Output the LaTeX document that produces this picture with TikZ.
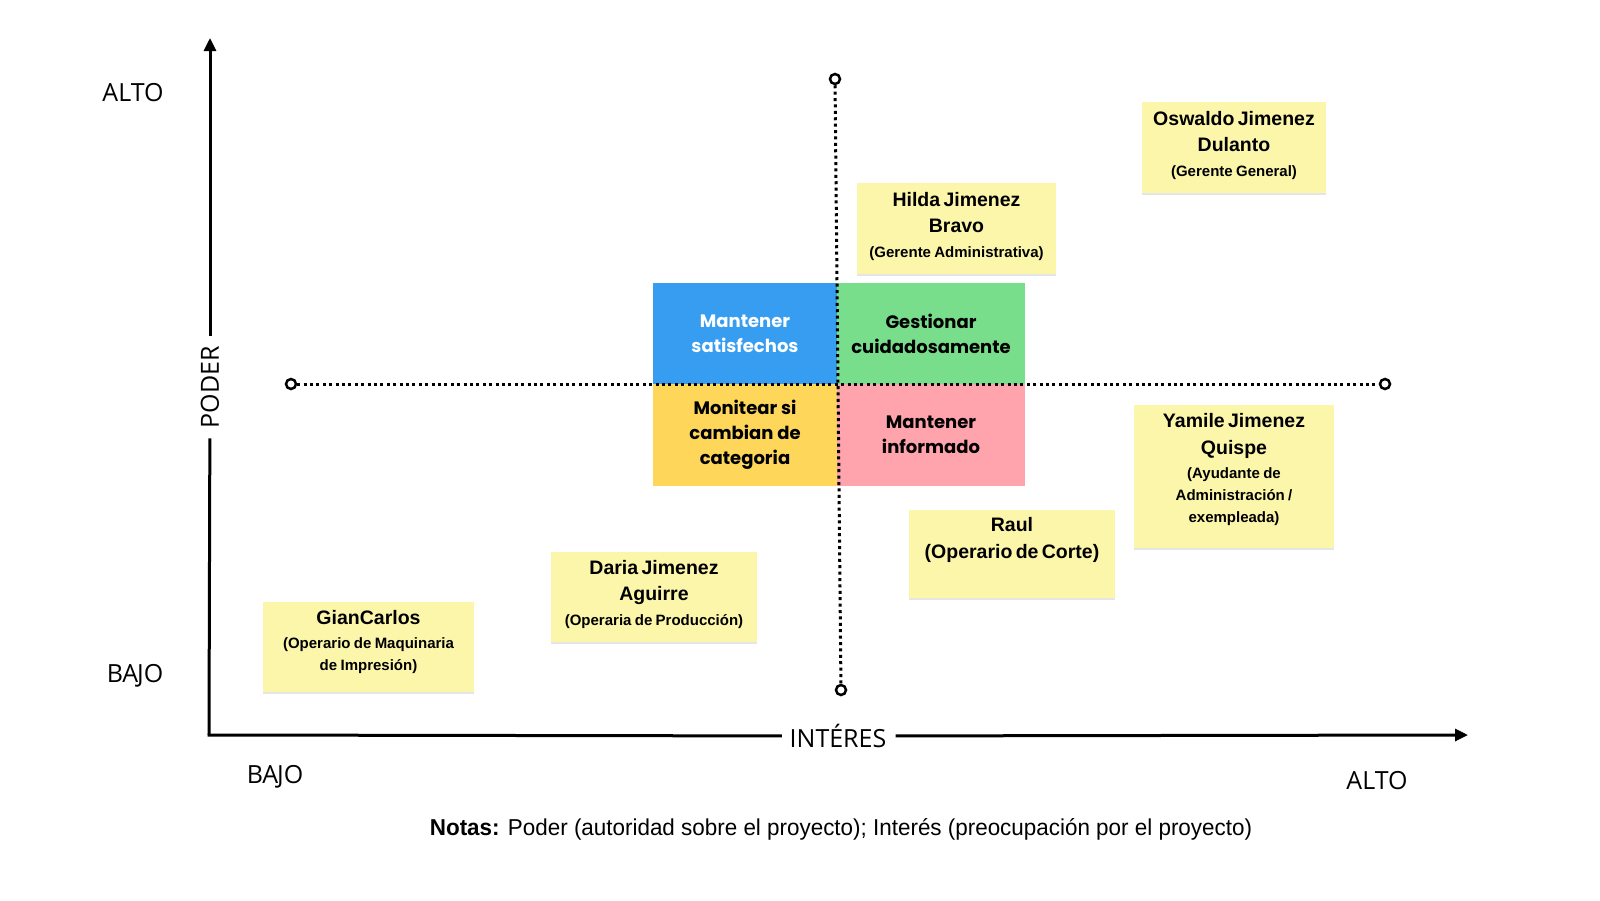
\documentclass[tikz,border=0pt]{standalone}
\usepackage{fontspec}
\setmainfont{Liberation Sans}
\newfontfamily\axisfont{Open Sans}
\newfontfamily\quadfont{Poppins}
\usetikzlibrary{arrows.meta,shadows}

\definecolor{notefill}{HTML}{FCF6AA}
\definecolor{qblue}{HTML}{379DF0}
\definecolor{qgreen}{HTML}{79DE8C}
\definecolor{qyellow}{HTML}{FDD65A}
\definecolor{qpink}{HTML}{FFA3AC}

\newcommand{\pname}[1]{{\fontsize{19.5}{26.5}\selectfont\bfseries #1\par}}
\newcommand{\prole}[1]{{\fontsize{15}{22}\selectfont\bfseries\vspace{2.5pt}#1\par}}

\begin{document}
\begin{tikzpicture}[x=1pt,y=-1pt]
\tikzstyle{axis}       = [line width=3pt]
\tikzstyle{axislabel}  = [font=\axisfont\fontsize{25}{30}\selectfont]
\tikzstyle{guide}      = [line width=3pt, dash pattern=on 3pt off 3.4pt]
\tikzstyle{endpt}      = [circle, draw, line width=2.5pt, fill=white, minimum size=10pt, inner sep=0pt]
\tikzstyle{quad}       = [minimum height=101pt, inner sep=0pt, align=center, font=\quadfont\bfseries\fontsize{18}{25}\selectfont]
\tikzstyle{sticky}     = [fill=notefill, inner sep=0pt, drop shadow={shadow xshift=0pt, shadow yshift=-2pt, opacity=.25, fill=black!40}]
\tikzstyle{stickytext} = [align=center, text width=200pt, inner sep=0pt]

\useasboundingbox (0,0) rectangle (1600,900);

% axes
\coordinate (origin) at (209,735);
\coordinate (ytop)   at (210,38);
\coordinate (xend)   at (1468,735);
\node (poder)   [axislabel, rotate=90, inner sep=10pt] at (210,387) {PODER};
\node (interes) [axislabel, inner sep=9pt] at (838,736) {INTÉRES};
\draw [axis] (origin) -- (poder);
\draw [axis, -{Triangle[length=13pt, width=12pt]}] (poder) -- (ytop);
\draw [axis, line cap=rect] (origin) -- (interes);
\draw [axis, -{Triangle[length=13pt, width=12pt]}] (interes) -- (xend);

\node (yalto) [axislabel] at (133,93)  {ALTO};
\node (ybajo) [axislabel] at (135,676) {BA\kern-1.2pt JO};
\node (xbajo) [axislabel] at (275,777) {BA\kern-1.2pt JO};
\node (xalto) [axislabel] at (1377,781) {ALTO};

% quadrants
\node (satisf)  [quad, fill=qblue, text=white, minimum width=184pt] at (745,333.5) {Mantener\\satisfechos};
\node (gestion) [quad, fill=qgreen, minimum width=188pt] at (931,333.5) {Gestionar\\cuidadosamente};
\node (monitor) [quad, fill=qyellow, minimum width=184pt, minimum height=102pt] at (745,435) {Monitear si\\cambian de\\categoria};
\node (inform)  [quad, fill=qpink, minimum width=188pt, minimum height=102pt] at (931,435) {Mantener\\informado};

% guide lines
\node (vtop)   [endpt] at (835,79) {};
\node (vbot)   [endpt] at (841,690) {};
\node (hleft)  [endpt] at (291,384) {};
\node (hright) [endpt] at (1385,384) {};
\draw [guide] (vtop) -- (vbot);
\draw [guide] (hleft) -- (hright);

% stakeholders
\node (oswaldo) [sticky, minimum width=184pt, minimum height=91pt] at (1234,147.5) {};
\node [stickytext] at ([yshift=2.5pt]oswaldo.center) {\pname{Oswaldo Jimenez\\Dulanto}\prole{(Gerente General)}};

\node (hilda) [sticky, minimum width=199pt, minimum height=91pt] at (956.5,228.5) {};
\node [stickytext] at ([yshift=2.5pt]hilda.center) {\pname{Hilda Jimenez\\Bravo}\prole{(Gerente Administrativa)}};

\node (yamile) [sticky, minimum width=200pt, minimum height=143pt] at (1234,476.5) {};
\node [stickytext] at ([yshift=7pt]yamile.center) {\pname{Yamile Jimenez\\Quispe}\prole{(Ayudante de\\Administración /\\exempleada)}};

\node (raul) [sticky, minimum width=206pt, minimum height=88pt] at (1012,554) {};
\node [stickytext] at ([yshift=14pt]raul.center) {\pname{Raul\\(Operario de Corte)}};

\node (daria) [sticky, minimum width=206pt, minimum height=90pt] at (654,597) {};
\node [stickytext] at ([yshift=3pt]daria.center) {\pname{Daria Jimenez\\Aguirre}\prole{(Operaria de Producción)}};

\node (gian) [sticky, minimum width=211pt, minimum height=90pt] at (368.5,647) {};
\node [stickytext, text width=211pt] at ([yshift=5pt]gian.center) {\pname{GianCarlos}\prole{(Operario de Maquinaria\\de Impresión)}};

% notes
\node (notas) [font=\fontsize{23}{27}\selectfont, xscale=0.975] at (841,829) {\textbf{Notas:} Poder (autoridad sobre el proyecto); Interés (preocupación por el proyecto)};
\end{tikzpicture}
\end{document}
